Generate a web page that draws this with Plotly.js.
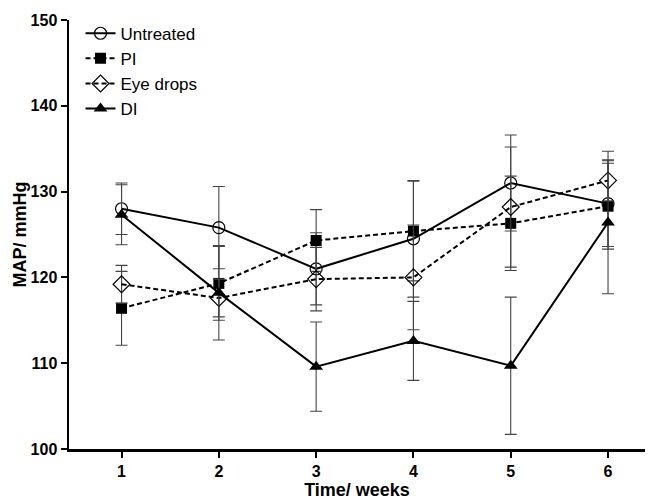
<!DOCTYPE html>
<html>
<head>
<meta charset="utf-8">
<script src="https://cdn.plot.ly/plotly-3.0.1.min.js"></script>
<style>html,body{margin:0;padding:0;background:#fff;}#chart{width:648px;height:500px;}</style>
</head>
<body>
<div id="chart"></div>
<script>
const weeks = [1, 2, 3, 4, 5, 6];
const untreated = [128.0, 125.8, 121.0, 124.5, 131.0, 128.6];
const untreatedErr = [3.0, 4.8, 4.2, 6.8, 5.6, 5.0];
const pi = [116.4, 119.3, 124.3, 125.4, 126.3, 128.3];
const piErr = [4.3, 4.3, 3.6, 5.8, 5.5, 5.0];
const eyeDrops = [119.2, 117.6, 119.8, 120.0, 128.2, 131.3];
const eyeDropsErr = [2.2, 2.2, 3.7, 6.1, 7.0, 2.4];
const di = [127.3, 118.2, 109.6, 112.6, 109.7, 126.4];
const diErr = [3.5, 5.5, 5.2, 4.6, 8.0, 8.3];
const seriesNames = ["Untreated", "PI", "Eye drops", "DI"];
const yTicks = [100, 110, 120, 130, 140, 150];

function errBar(arr) {
  return {type: 'data', array: arr, visible: true, color: '#444', thickness: 1.1, width: 6};
}
const dashPat = '5px,3px';
const traces = [
  {x: weeks, y: untreated, error_y: errBar(untreatedErr), name: seriesNames[0], mode: 'lines+markers',
   line: {color: '#000', width: 2}, marker: {symbol: 'circle-open', size: 12, color: '#000', line: {width: 1.2, color: '#000'}}},
  {x: weeks, y: pi, error_y: errBar(piErr), name: seriesNames[1], mode: 'lines+markers',
   line: {color: '#000', width: 2, dash: dashPat}, marker: {symbol: 'square', size: 11, color: '#000'}},
  {x: weeks, y: eyeDrops, error_y: errBar(eyeDropsErr), name: seriesNames[2], mode: 'lines+markers',
   line: {color: '#000', width: 2, dash: dashPat}, marker: {symbol: 'diamond-open', size: 13, color: '#000', line: {width: 1.2, color: '#000'}}},
  {x: weeks, y: di, error_y: errBar(diErr), name: seriesNames[3], mode: 'lines+markers',
   line: {color: '#000', width: 2}, marker: {symbol: 'triangle-up', size: 12, color: '#000'}}
];

const font = {family: 'Liberation Sans, Arial, sans-serif', color: '#000'};
const layout = {
  width: 648, height: 500,
  margin: {l: 69, r: 3, t: 20, b: 51},
  paper_bgcolor: '#fff', plot_bgcolor: '#fff',
  font: font,
  showlegend: true,
  legend: {x: 0.02, y: 1.01, xanchor: 'left', yanchor: 'top', bgcolor: 'rgba(0,0,0,0)',
           font: {family: font.family, size: 17, color: '#000'}, tracegroupgap: 0, itemwidth: 30},
  xaxis: {
    range: [0.46, 6.38], tickvals: weeks, ticktext: weeks.map(String),
    showgrid: false, zeroline: false, showline: true, linecolor: '#000', linewidth: 2.5,
    ticks: 'outside', ticklen: 6, tickwidth: 2, tickcolor: '#000',
    tickfont: {family: font.family, size: 16, color: '#000', weight: 'bold'},
    title: {text: '<b>Time/ weeks</b>', font: {family: font.family, size: 18, color: '#000'}, standoff: 5}
  },
  yaxis: {
    range: [100, 150], tickvals: yTicks,
    showgrid: false, zeroline: false, showline: true, linecolor: '#000', linewidth: 2.5,
    ticks: 'outside', ticklen: 6, tickwidth: 2, tickcolor: '#000',
    tickfont: {family: font.family, size: 16, color: '#000', weight: 'bold'},
    title: {text: '<b>MAP/ mmHg</b>', font: {family: font.family, size: 18, color: '#000'}, standoff: 0}
  }
};
Plotly.newPlot('chart', traces, layout, {displayModeBar: false, staticPlot: true});
</script>
</body>
</html>
